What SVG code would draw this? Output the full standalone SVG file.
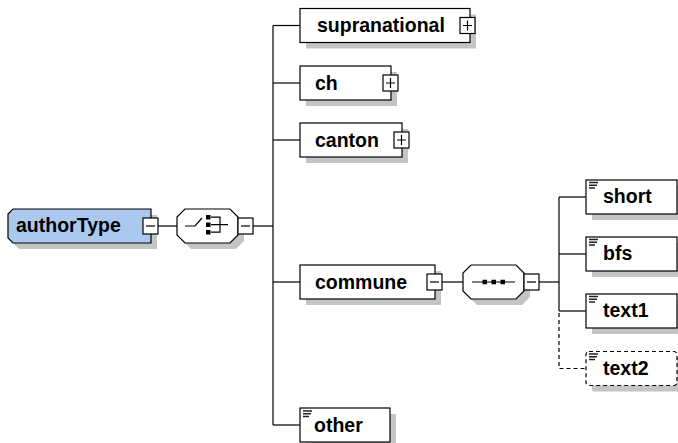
<svg xmlns="http://www.w3.org/2000/svg" width="678" height="443" viewBox="0 0 678 443">
<defs>
<style>
.sh{fill:#c4c4c4}
.box{fill:#fff;stroke:#000;stroke-width:1.2}
.dbox{fill:#fff;stroke:#000;stroke-width:1.2;stroke-dasharray:4 3}
.ln{fill:none;stroke:#000;stroke-width:1.2}
.dl{fill:none;stroke:#000;stroke-width:1.2;stroke-dasharray:4 3}
.ex{fill:#fff;stroke:#000;stroke-width:1.2}
.doc{stroke:#222;stroke-width:1.5}
.t{font-family:"Liberation Sans",Arial,sans-serif;font-weight:bold;font-size:19.5px;fill:#000}
</style>
</defs>
<rect width="678" height="443" fill="#fff"/>

<g id="connectors">
<line class="ln" x1="158" y1="226" x2="177" y2="226"/>
<line class="ln" x1="253" y1="226" x2="273" y2="226"/>
<line class="ln" x1="273" y1="25.5" x2="273" y2="425"/>
<line class="ln" x1="273" y1="25.5" x2="300" y2="25.5"/>
<line class="ln" x1="273" y1="83" x2="300" y2="83"/>
<line class="ln" x1="273" y1="140" x2="300" y2="140"/>
<line class="ln" x1="273" y1="282" x2="300" y2="282"/>
<line class="ln" x1="273" y1="425" x2="300" y2="425"/>
<line class="ln" x1="442" y1="282" x2="463" y2="282"/>
<line class="ln" x1="539" y1="282" x2="559" y2="282"/>
<line class="ln" x1="559" y1="197" x2="559" y2="311"/>
<line class="ln" x1="559" y1="197" x2="586" y2="197"/>
<line class="ln" x1="559" y1="254" x2="586" y2="254"/>
<line class="ln" x1="559" y1="311" x2="586" y2="311"/>
<path class="dl" d="M559,313 V368.5 H586"/>
</g>

<g id="authorType">
<path class="sh" d="M19,215 H157 V249 H19 L14,244 V220 Z"/>
<path d="M13,209 H151 V243 H13 L8,238 V214 Z" fill="#abc9ef" stroke="#000" stroke-width="1.2"/>
<text class="t" x="16" y="232">authorType</text>
<rect class="ex" x="143" y="218" width="15" height="16"/>
<line class="ln" x1="146" y1="226" x2="155" y2="226"/>
</g>

<g id="choice">
<path class="sh" d="M191,215 H236 L244,223 V241 L236,249 H191 L183,241 V223 Z"/>
<path class="box" d="M185,209 H230 L238,217 V235 L230,243 H185 L177,235 V217 Z"/>
<path class="ln" d="M185,226 H195 L202,218"/>
<rect x="206" y="215" width="4.5" height="4.5" fill="#000"/>
<rect x="206" y="222.5" width="4.5" height="4.5" fill="#000"/>
<rect x="206" y="230" width="4.5" height="4.5" fill="#000"/>
<path class="ln" d="M211,217.2 H220 V232.2 H211 M211,224.7 H228"/>
<rect class="ex" x="238" y="218" width="15" height="16"/>
<line class="ln" x1="241" y1="226" x2="250" y2="226"/>
</g>

<g id="supranational">
<rect class="sh" x="306" y="14.5" width="170" height="34"/>
<rect class="box" x="300" y="8.5" width="170" height="34"/>
<text class="t" x="317" y="32">supranational</text>
<rect class="ex" x="460" y="17.5" width="15" height="16"/>
<path class="ln" d="M463,25.5 H472 M467.5,20.5 V30.5"/>
</g>

<g id="ch">
<rect class="sh" x="306" y="72" width="91" height="34"/>
<rect class="box" x="300" y="66" width="91" height="34"/>
<text class="t" x="315" y="89.5">ch</text>
<rect class="ex" x="383" y="75" width="15" height="16"/>
<path class="ln" d="M386,83 H395 M390.5,78 V88"/>
</g>

<g id="canton">
<rect class="sh" x="306" y="129" width="102" height="34"/>
<rect class="box" x="300" y="123" width="102" height="34"/>
<text class="t" x="315" y="146.5">canton</text>
<rect class="ex" x="394" y="132" width="15" height="16"/>
<path class="ln" d="M397,140 H406 M401.5,135 V145"/>
</g>

<g id="commune">
<rect class="sh" x="306" y="271" width="135" height="34"/>
<rect class="box" x="300" y="265" width="135" height="34"/>
<text class="t" x="315" y="288.5">commune</text>
<rect class="ex" x="427" y="274" width="15" height="16"/>
<line class="ln" x1="430" y1="282" x2="439" y2="282"/>
</g>

<g id="sequence">
<path class="sh" d="M477,271 H522 L530,279 V297 L522,305 H477 L469,297 V279 Z"/>
<path class="box" d="M471,265 H516 L524,273 V291 L516,299 H471 L463,291 V273 Z"/>
<line class="ln" x1="472" y1="282" x2="515" y2="282"/>
<rect x="482.5" y="279.75" width="4.5" height="4.5" fill="#000"/>
<rect x="491.5" y="279.75" width="4.5" height="4.5" fill="#000"/>
<rect x="500.5" y="279.75" width="4.5" height="4.5" fill="#000"/>
<rect class="ex" x="524" y="274" width="15" height="16"/>
<line class="ln" x1="527" y1="282" x2="536" y2="282"/>
</g>

<g id="other">
<rect class="sh" x="306" y="414" width="90" height="34"/>
<rect class="box" x="300" y="408" width="90" height="34"/>
<path class="doc" d="M303,411 H312 M303,413.7 H311 M303,416.4 H309"/>
<text class="t" x="314" y="431.5">other</text>
</g>

<g id="short">
<rect class="sh" x="592" y="186" width="91" height="34"/>
<rect class="box" x="586" y="180" width="91" height="34"/>
<path class="doc" d="M589,182.5 H598 M589,185.2 H597 M589,187.9 H595"/>
<text class="t" x="603" y="203">short</text>
</g>

<g id="bfs">
<rect class="sh" x="592" y="243" width="91" height="34"/>
<rect class="box" x="586" y="237" width="91" height="34"/>
<path class="doc" d="M589,239.5 H598 M589,242.2 H597 M589,244.9 H595"/>
<text class="t" x="603" y="260">bfs</text>
</g>

<g id="text1">
<rect class="sh" x="592" y="300" width="91" height="34"/>
<rect class="box" x="586" y="294" width="91" height="34"/>
<path class="doc" d="M589,296.5 H598 M589,299.2 H597 M589,301.9 H595"/>
<text class="t" x="603" y="317">text1</text>
</g>

<g id="text2">
<rect class="sh" x="592" y="357.5" width="91" height="34" rx="2"/>
<rect class="dbox" x="586" y="351.5" width="91" height="34" rx="3"/>
<path class="doc" d="M589,354 H598 M589,356.7 H597 M589,359.4 H595"/>
<text class="t" x="603" y="374.5">text2</text>
</g>
</svg>
